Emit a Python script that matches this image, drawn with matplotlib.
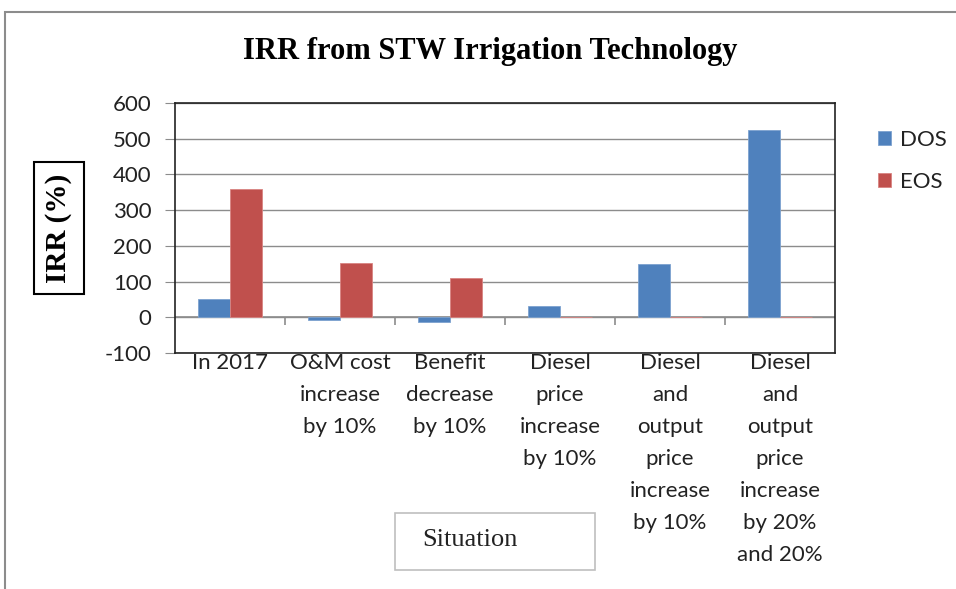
import matplotlib
matplotlib.use("Agg")
import matplotlib.pyplot as plt
import matplotlib.patches as patches
import numpy as np

# chart data
situations = ["In 2017",
              "O&M cost\nincrease\nby 10%",
              "Benefit\ndecrease\nby 10%",
              "Diesel\nprice\nincrease\nby 10%",
              "Diesel\nand\noutput\nprice\nincrease\nby 10%",
              "Diesel\nand\noutput\nprice\nincrease\nby 20%\nand 20%"]
dos = [52, -8, -12, 32, 150, 524]
eos = [358, 153, 110, 0, 0, 0]
series_names = ["DOS", "EOS"]
yticks = [-100, 0, 100, 200, 300, 400, 500, 600]

blue = "#4F81BD"
red = "#C0504D"
sans = ["Lato", "DejaVu Sans"]
serif = ["Liberation Serif", "DejaVu Serif"]

fig = plt.figure(figsize=(9.56, 5.89), dpi=100)
W, H = 956, 589

# outer chart border
fig.patches.append(patches.Rectangle((5 / W, -0.01), 1.1, 1 - 12 / H + 0.01,
                                     transform=fig.transFigure, fill=False,
                                     edgecolor="#8c8c8c", linewidth=1.5))

ax = fig.add_axes([175 / W, (H - 353) / H, 660 / W, 250 / H])
x = np.arange(len(situations))
bw = 0.29
ax.bar(x - bw / 2, dos, bw, color=blue, edgecolor="#7da2cf", linewidth=0.6,
       label=series_names[0], zorder=3)
ax.bar(x + bw / 2, eos, bw, color=red, edgecolor="#d98482", linewidth=0.6,
       label=series_names[1], zorder=3)

ax.set_xlim(-0.5, len(situations) - 0.5)
ax.set_ylim(yticks[0], yticks[-1])
ax.set_yticks(yticks)
ax.set_yticklabels([str(v) for v in yticks], fontfamily=sans, fontsize=16,
                   color="#222222")
ax.grid(axis="y", color="#8c8c8c", linewidth=1.0, zorder=0)
ax.tick_params(axis="y", length=7, color="#8c8c8c", pad=10)

ax.set_xticks(x)
ax.set_xticklabels(situations, fontfamily=sans, fontsize=16, color="#222222",
                   linespacing=1.75, va="top")
ax.tick_params(axis="x", length=0, pad=0)

# zero line with category boundary ticks
ax.axhline(0, color="#8c8c8c", linewidth=1.2, zorder=2)
ax.vlines(np.arange(0.5, len(situations) - 0.5), -22, 0, color="#8c8c8c",
          linewidth=1.2, zorder=2)

for s in ax.spines.values():
    s.set_color("#222222")
    s.set_linewidth(1.2)

# title
fig.text(490 / W, 1 - 52 / H, "IRR from STW Irrigation Technology",
         fontfamily=serif, fontweight="bold", fontsize=22, ha="center",
         va="center", color="black")

# y axis label in a box
fig.text(59 / W, 1 - 228 / H, "IRR (%)", fontfamily=serif, fontweight="bold",
         fontsize=21, rotation=90, ha="center", va="center",
         bbox=dict(boxstyle="square,pad=0.4", facecolor="white",
                   edgecolor="black", linewidth=1.5))

# x axis label in a box
fig.patches.append(patches.Rectangle((395 / W, 1 - 570 / H), 200 / W, 57 / H,
                                     transform=fig.transFigure, fill=False,
                                     edgecolor="#bfbfbf", linewidth=1.2))
fig.text(470 / W, 1 - 540 / H, "Situation", fontfamily=serif, fontsize=19,
         ha="center", va="center", color="#222222")

fig.legend(loc="upper left", bbox_to_anchor=(858 / W, 1 - 110 / H),
           frameon=False, prop={"family": sans, "size": 16},
           handlelength=0.6, handleheight=0.6, handletextpad=0.4,
           labelspacing=1.0, labelcolor="#222222")

fig.savefig("out.png", dpi=100)
